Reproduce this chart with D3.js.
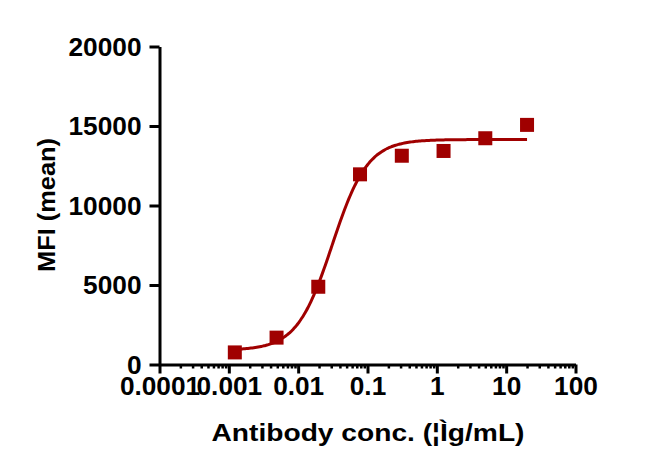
<!DOCTYPE html>
<html>
<head>
<meta charset="utf-8">
<script src="https://cdn.jsdelivr.net/npm/d3@7"></script>
<style>
  html, body { margin: 0; padding: 0; background: #fff; }
  svg { display: block; }
  text { font-family: "Liberation Sans", Arial, sans-serif; font-weight: bold; fill: #000; }
</style>
</head>
<body>
<svg id="chart" width="663" height="473"></svg>
<script>
// ---- data ----
const concentrations = [0.00122, 0.00488, 0.0195, 0.078, 0.3125, 1.25, 5, 20];
const mfiValues = [760, 1690, 4890, 11960, 13130, 13430, 14230, 15070];
const xTickValues = [0.0001, 0.001, 0.01, 0.1, 1, 10, 100];
const xTickLabels = ["0.0001", "0.001", "0.01", "0.1", "1", "10", "100"];
const yTickValues = [0, 5000, 10000, 15000, 20000];
const yTickLabels = ["0", "5000", "10000", "15000", "20000"];
// four-parameter logistic fit (bottom, top, EC50, hill slope)
const fitBottom = 900, fitTop = 14150, fitEC50 = 0.031, fitHill = 1.7;
const xTitle = "Antibody conc. (¦Ìg/mL)";
const yTitle = "MFI (mean)";

const svg = d3.select("#chart");
const x = d3.scaleLog().domain([0.0001, 100]).range([159.5, 575.5]);
const y = d3.scaleLinear().domain([0, 20000]).range([364.5, 46.5]);
const red = "#A00000";

// stretched label width (reference text is slightly wide)
const labelLen = t => t.split("").reduce((a, ch) => a + (ch === "." ? 7.2 : 14.6), 0);

// minor ticks
const minor = [];
for (let e = -4; e < 2; e++) for (let m = 2; m <= 9; m++) minor.push(m * Math.pow(10, e));

const gxMinor = svg.append("g").attr("transform", `translate(0,${y(0)})`)
  .call(d3.axisBottom(x).tickValues(minor).tickSize(4).tickSizeOuter(0).tickFormat(""));
gxMinor.select(".domain").remove();
gxMinor.selectAll("line").attr("stroke", "#000").attr("stroke-width", 2.5);

const gx = svg.append("g").attr("transform", `translate(0,${y(0)})`)
  .call(d3.axisBottom(x).tickValues(xTickValues).tickSize(9).tickSizeOuter(0)
    .tickFormat((d, i) => xTickLabels[i]));
gx.select(".domain").attr("stroke", "#000").attr("stroke-width", 3);
gx.selectAll(".tick line").attr("stroke", "#000").attr("stroke-width", 3);
gx.selectAll(".tick text").attr("font-size", 25).attr("y", 13).attr("dy", "0.71em")
  .attr("textLength", (d, i) => labelLen(xTickLabels[i])).attr("lengthAdjust", "spacingAndGlyphs")
  .attr("font-family", "Liberation Sans, Arial, sans-serif").attr("font-weight", "bold").attr("fill", "#000");

const gy = svg.append("g").attr("transform", `translate(${x(0.0001)},0)`)
  .call(d3.axisLeft(y).tickValues(yTickValues).tickSize(10).tickSizeOuter(0)
    .tickFormat((d, i) => yTickLabels[i]));
gy.select(".domain").attr("stroke", "#000").attr("stroke-width", 3);
gy.selectAll(".tick line").attr("stroke", "#000").attr("stroke-width", 3);
gy.selectAll(".tick text").attr("font-size", 25).attr("x", -18).attr("dy", "0.35em")
  .attr("textLength", (d, i) => labelLen(yTickLabels[i])).attr("lengthAdjust", "spacingAndGlyphs")
  .attr("font-family", "Liberation Sans, Arial, sans-serif").attr("font-weight", "bold").attr("fill", "#000");

// fitted curve
const lx0 = Math.log10(concentrations[0]), lx1 = Math.log10(concentrations[concentrations.length - 1]);
const curvePts = d3.range(0, 201).map(i => {
  const c = Math.pow(10, lx0 + (lx1 - lx0) * i / 200);
  return [c, fitBottom + (fitTop - fitBottom) / (1 + Math.pow(fitEC50 / c, fitHill))];
});
svg.append("path")
  .datum(curvePts)
  .attr("fill", "none").attr("stroke", red).attr("stroke-width", 3)
  .attr("d", d3.line().x(d => x(d[0])).y(d => y(d[1])).curve(d3.curveMonotoneX));

// points
const s = 14;
svg.append("g").selectAll("rect").data(concentrations).join("rect")
  .attr("x", d => x(d) - s / 2)
  .attr("y", (d, i) => y(mfiValues[i]) - s / 2)
  .attr("width", s).attr("height", s)
  .attr("fill", red);

// titles
svg.append("text").attr("x", 368).attr("y", 441).attr("text-anchor", "middle")
  .attr("font-size", 23).attr("textLength", 313).attr("lengthAdjust", "spacingAndGlyphs")
  .text(xTitle);
svg.append("text").attr("transform", "translate(55,205) rotate(-90)").attr("text-anchor", "middle")
  .attr("font-size", 23).attr("textLength", 134).attr("lengthAdjust", "spacingAndGlyphs")
  .text(yTitle);
</script>
</body>
</html>
